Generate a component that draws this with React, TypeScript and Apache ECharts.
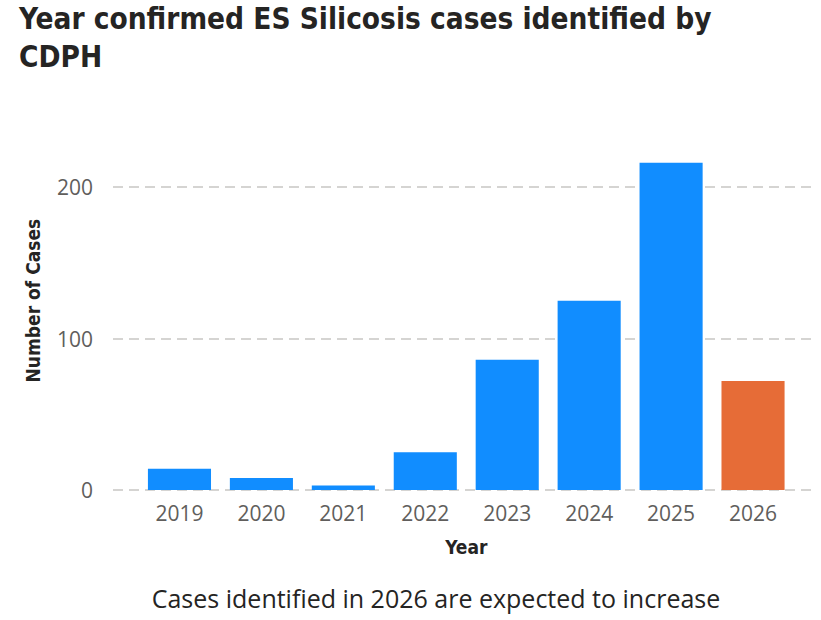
import React, { useEffect, useRef } from "react";
import * as echarts from "echarts";

const years = ["2019", "2020", "2021", "2022", "2023", "2024", "2025", "2026"];
const cases = [14, 8, 3, 25, 86, 125, 216, 72];
const barColors = ["#118DFF", "#118DFF", "#118DFF", "#118DFF", "#118DFF", "#118DFF", "#118DFF", "#E66C37"];
const yTicks = [0, 100, 200];

const titleLines = ["Year confirmed ES Silicosis cases identified by", "CDPH"];
const footerText = "Cases identified in 2026 are expected to increase";

export default function App() {
  const ref = useRef<HTMLDivElement>(null);
  useEffect(() => {
    if (!ref.current) return;
    const chart = echarts.init(ref.current, null, { renderer: "svg" });
    const labelFont = "'Segoe UI', 'Open Sans', 'Noto Sans', sans-serif";
    const condFont = "'DejaVu Sans Condensed', 'Liberation Sans Narrow', sans-serif";
    chart.setOption({
      animation: false,
      backgroundColor: "#ffffff",
      graphic: [
        ...titleLines.map((t, i) => ({
          type: "text",
          x: 19,
          y: 19 + i * 38,
          style: {
            text: t,
            fontFamily: condFont,
            fontSize: 29.5,
            fontWeight: "bold",
            fill: "#252423",
            verticalAlign: "middle",
          },
        })),
        {
          type: "text",
          x: 436,
          y: 598,
          style: {
            text: footerText,
            fontFamily: labelFont,
            fontSize: 25,
            fill: "#252423",
            align: "center",
            verticalAlign: "middle",
          },
        },
      ],
      grid: [
        { left: 138.5, right: 27, top: 111.25, bottom: 130 },
        { left: 113, right: 6, top: 111.25, bottom: 130 },
      ],
      xAxis: [
        {
          type: "category",
          gridIndex: 0,
          data: years,
          axisLine: { show: false },
          axisTick: { show: false },
          axisLabel: {
            color: "#605E5C",
            fontFamily: labelFont,
            fontSize: 21,
            margin: 12,
          },
          name: "Year",
          nameLocation: "middle",
          nameGap: 47,
          nameTextStyle: {
            fontFamily: condFont,
            fontSize: 19,
            color: "#252423",
            fontWeight: "bold",
          },
        },
        {
          type: "category",
          gridIndex: 1,
          data: years,
          show: false,
        },
      ],
      yAxis: [
        {
          type: "value",
          gridIndex: 0,
          min: 0,
          max: 250,
          interval: 100,
          show: false,
          splitLine: { show: false },
        },
        {
          type: "value",
          gridIndex: 1,
          min: 0,
          max: 250,
          interval: 100,
          axisLine: { show: false },
          axisTick: { show: false },
          axisLabel: {
            color: "#605E5C",
            fontFamily: labelFont,
            fontSize: 21,
            margin: 20,
            showMaxLabel: false,
            formatter: (v: number) => (yTicks.includes(v) ? String(v) : ""),
          },
          splitLine: {
            show: true,
            showMaxLine: false,
            lineStyle: { color: "#C8C6C4", type: [10, 6], width: 1.5 },
          },
          name: "Number of Cases",
          nameLocation: "middle",
          nameGap: 71,
          nameRotate: 90,
          nameTextStyle: {
            fontFamily: condFont,
            fontSize: 19,
            color: "#252423",
            fontWeight: "bold",
          },
        },
      ],
      series: [
        {
          type: "bar",
          xAxisIndex: 0,
          yAxisIndex: 0,
          barCategoryGap: "23%",
          z: 3,
          data: cases.map((v, i) => ({ value: v, itemStyle: { color: barColors[i] } })),
        },
      ],
    });
    return () => chart.dispose();
  }, []);
  return (
    <div
      ref={ref}
      style={{ position: "absolute", left: 0, top: 0, width: 821, height: 620 }}
    />
  );
}
